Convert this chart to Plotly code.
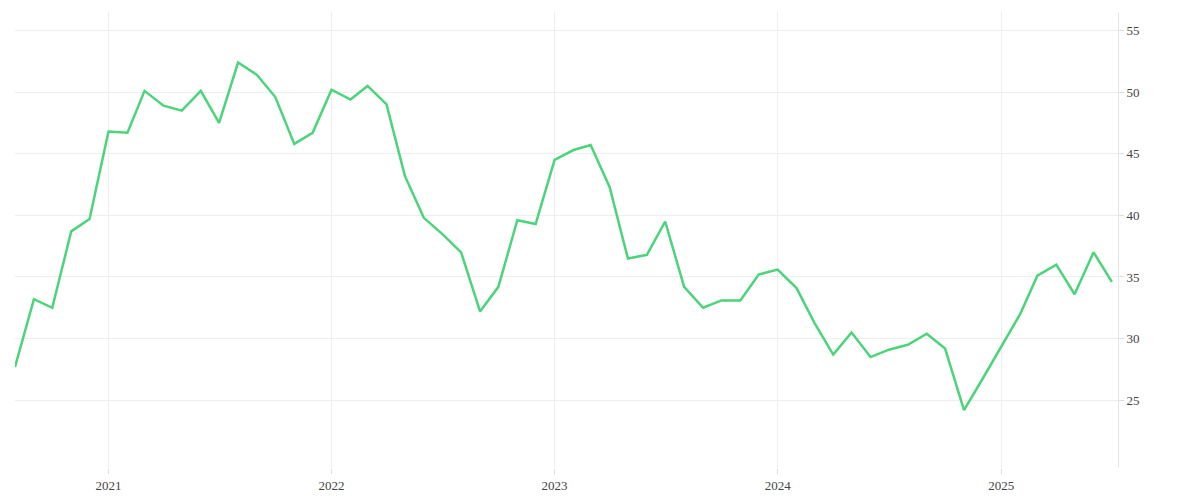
import plotly.graph_objects as go
import pandas as pd

dates = pd.date_range("2020-08-01", periods=60, freq="MS")
values = [27.7, 33.2, 32.5, 38.7, 39.7,
          46.8, 46.7, 50.1, 48.9, 48.5, 50.1, 47.5, 52.4, 51.4, 49.6, 45.8, 46.7,
          50.2, 49.4, 50.5, 49.0, 43.2, 39.8, 38.5, 37.0, 32.2, 34.2, 39.6, 39.3,
          44.5, 45.3, 45.7, 42.3, 36.5, 36.8, 39.5, 34.2, 32.5, 33.1, 33.1, 35.2,
          35.6, 34.1, 31.3, 28.7, 30.5, 28.5, 29.1, 29.5, 30.4, 29.2, 24.2, 26.7,
          29.4, 32.0, 35.1, 36.0, 33.6, 37.0, 34.6]
ytick_vals = [25, 30, 35, 40, 45, 50, 55]

fig = go.Figure(go.Scatter(x=dates, y=values, mode="lines",
                           line=dict(color="#4cd47a", width=2.5), hoverinfo="x+y"))
fig.update_layout(
    width=1200, height=500, plot_bgcolor="white", paper_bgcolor="white",
    margin=dict(l=7, r=90, t=4, b=40), showlegend=False,
    font=dict(family="Liberation Serif", size=13, color="#444"),
    xaxis=dict(range=[dates[0], dates[-1] + pd.Timedelta(days=10)], showgrid=True,
               gridcolor="#eeeeee", dtick="M12", tickformat="%Y",
               ticks="outside", ticklen=5, tickcolor="#ddd", zeroline=False),
    yaxis=dict(side="right", range=[19.5, 56.5], tickvals=ytick_vals,
               showgrid=True, gridcolor="#eeeeee", zeroline=False,
               showline=True, linecolor="#e5e5e5", ticks="outside",
               ticklen=5, tickcolor="#ddd"),
)
fig.write_html("out.html")
